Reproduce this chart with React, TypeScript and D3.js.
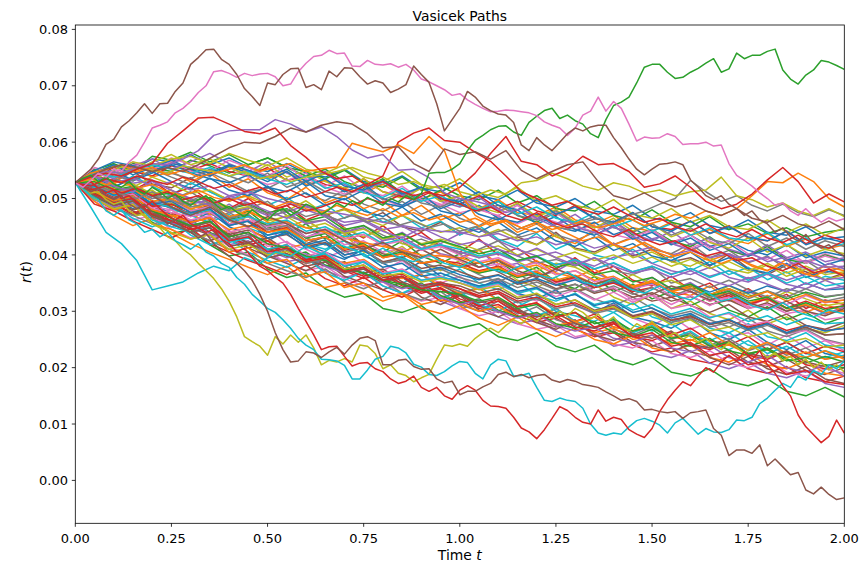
import React from "react";
import * as d3 from "d3";

// ---------- chart constants ----------
const W = 863;
const H = 571;
const tab10 = ["#1f77b4", "#ff7f0e", "#2ca02c", "#d62728", "#9467bd", "#8c564b", "#e377c2", "#7f7f7f", "#bcbd22", "#17becf"];

const titleText = "Vasicek Paths";
const xTicks = [0, 0.25, 0.5, 0.75, 1.0, 1.25, 1.5, 1.75, 2.0];
const yTicks = [0, 0.01, 0.02, 0.03, 0.04, 0.05, 0.06, 0.07, 0.08];
const timeSpan = [0, 2];

// values are in units of 1e-4 (i.e. 528 = 0.0528); each series spans t = 0..2 evenly

// distinctive paths (t step 0.02)
const brownTop = [528,540,552,570,596,605,627,638,652,668, 651,668,669,690,705,738,750,764,765,747, 738,720,695,681,665,705,702,720,730,731, 697,702,693,726,716,732,731,716,703,709, 705,688,694,702,735,720,706,668,620,640, 660,690,680,664,656,650,648,635,595,585, 608,595,585,600,615,625,620,627,630,630, 608,590,570,552,542,552,561,562,565,560, 533,520,505,498,505,490,482,470,478,462, 455,440,448,432,425,436,420,412,418,405, 398];
const pinkTop = [528,520,532,545,538,552,548,565,577,600, 625,630,636,652,660,672,688,700,725,727, 722,715,722,718,721,722,716,700,703,725, 740,752,754,763,757,758,735,734,745,738, 737,739,733,738,728,712,707,700,693,683, 686,675,667,660,654,655,657,656,654,652, 647,636,630,625,612,625,648,655,680,655, 672,660,632,602,609,607,608,615,610,596, 597,597,600,593,595,562,541,532,522,510, 500,488,492,478,470,482,468,458,466,460, 464];
const greenRise = [528,536,541,530,538,526,520,530,515,508, 520,512,500,508,495,488,498,505,492,480, 486,476,468,480,470,462,475,482,470,478, 490,484,472,480,492,485,496,490,502,495, 488,500,494,505,498,509,545,546,546,552, 562,585,603,612,622,628,629,618,612,635, 646,656,660,642,648,638,632,615,608,640, 665,671,680,705,733,738,738,724,713,715, 724,731,740,748,724,730,758,748,754,754, 761,765,728,712,703,719,728,745,742,736, 729];
const brownLow = [528,520,512,518,505,498,505,490,482,490, 475,468,455,462,448,440,430,438,420,408, 398,385,372,355,330,300,262,232,210,212, 228,226,218,228,236,224,240,252,255,248, 205,205,213,215,202,197,198,180,173,176, 152,158,158,166,172,188,192,184,188,182, 186,188,178,174,179,176,170,168,165,157, 150,142,145,140,125,126,122,120,122,110, 120,122,125,92,80,44,54,54,48,63, 26,38,24,10,14,-17,-24,-12,-25,-34, -31];
const redLow = [528,522,530,518,510,515,500,505,492,485, 495,482,470,462,470,455,448,440,445,428, 420,405,412,395,380,372,360,350,330,305, 282,258,232,237,238,220,203,208,209,198, 193,180,172,176,185,165,158,165,150,144, 160,168,160,142,132,131,128,112,93,86, 74,90,110,131,124,112,103,100,125,105, 112,108,90,82,76,92,122,143,160,175, 168,185,200,192,210,222,212,228,215,230, 205,190,168,150,116,95,81,67,78,107, 84];
const cyanLow = [528,518,505,498,478,470,480,462,455,440, 445,432,440,425,418,410,420,405,398,385, 378,360,348,330,318,305,298,285,270,252, 240,232,215,214,212,204,180,180,196,215, 220,238,235,226,206,201,188,186,193,203, 211,209,190,180,205,215,212,185,186,190, 165,142,140,146,142,140,128,100,84,80, 84,82,95,106,110,105,98,84,102,110, 96,82,92,86,85,90,107,106,112,136, 146,160,172,165,185,178,195,188,205,198, 212];
const oliveLow = [528,520,510,512,498,490,495,478,470,472, 455,448,432,425,410,400,385,372,358,340, 318,290,255,246,238,222,255,242,258,245, 258,235,205,213,210,216,210,240,238,225, 198,205,190,186,175,182,188,215,240,238, 242,238,252,262,270,262,275,285,278,290, 282,295,288,300,292,305,298,286,295,280, 290,272,265,278,270,282,268,255,262,250, 258,245,252,240,232,245,236,225,238,230, 218,226,212,220,205,215,200,210,196,205, 192];

// secondary paths (t step 0.04)
const redUpper = [528,538,545,540,552,562,598,620,643,644, 632,619,615,625,594,573,548,535,540,522, 530,515,505,512,498,490,478,485,470,462, 475,458,448,455,440,432,445,428,418,425, 410,398,405,390,395,380,372,385,368,375, 362];
const purpleUpper = [528,540,548,545,555,562,560,570,585,612, 620,622,622,640,632,618,627,610,586,572, 578,550,552,537,510,500,495,488,475,482, 465,452,460,445,438,450,435,425,432,418, 408,420,405,395,402,388,395,380,372,385, 375];
const orangeUpper = [528,545,552,560,548,555,542,550,538,545, 552,560,548,556,562,548,553,556,598,590, 583,595,580,610,585,510,470,455,462,448, 440,452,438,425,432,418,410,422,408,398, 405,392,385,395,380,372,385,370,362,375, 365];
const redMid = [528,522,535,528,540,532,525,538,530,518, 525,512,520,508,515,502,510,520,512,525, 540,600,616,625,603,600,582,566,540,512, 500,488,495,480,472,485,470,458,465,450, 442,455,440,432,445,430,422,435,420,412, 425];
const redLate = [528,515,522,510,518,505,512,498,505,492, 500,488,495,482,490,478,485,495,488,500, 492,505,498,510,505,520,545,580,610,566, 560,540,552,575,560,562,548,520,526,540, 520,495,482,490,508,533,555,530,492,508, 494];
const orangeLate = [528,535,525,530,518,525,512,505,515,502, 495,505,492,485,495,482,475,488,478,470, 482,468,475,462,470,458,465,452,460,448, 458,445,452,460,448,455,465,452,460,472, 465,478,470,482,505,530,528,545,530,500, 485];
const oliveUpper = [528,540,548,545,556,550,545,558,552,548, 540,548,535,542,530,538,542,548,555,545, 538,525,530,518,525,512,505,515,508,528, 532,545,535,522,515,528,522,510,515,505, 512,515,538,505,498,485,492,478,470,482, 468];
const grayLate = [528,515,522,508,500,512,498,490,502,488, 480,492,478,470,482,468,475,462,470,458, 465,452,460,448,455,442,450,438,445,432, 440,452,445,458,465,455,470,478,490,500, 532,512,495,505,488,478,490,475,468,480, 470];
const brownMid = [528,540,552,560,555,548,555,548,560,575, 590,600,598,610,625,618,630,636,632,615, 590,592,562,548,588,578,583,570,585,550, 535,548,560,565,530,505,498,510,495,485, 492,478,470,482,465,458,470,455,448,460, 445];
const cyanDip = [528,485,440,420,390,338,345,352,368,380, 372,395,385,405,398,415,402,420,410,398, 412,395,388,400,385,378,392,375,368,382, 365,358,370,352,345,358,340,332,345,328, 320,335,318,325,310,302,315,298,290,302, 295];

// paths staying in the upper part of the bundle (t step 0.05)
const upperPaths = [
  [528,545,560,552,570,565,578,560,572,555,548,562,545,538,552,530,525,540,518,512,528,505,498,515,492,485,500,478,472,488,465,460,475,452,445,462,440,435,450,428,432],
  [528,540,532,555,548,565,552,540,558,545,535,548,525,532,518,510,525,505,498,512,490,482,498,475,470,485,462,455,470,448,442,458,435,445,428,420,438,415,428,410,418],
  [528,552,545,562,555,548,568,558,545,560,572,555,548,535,550,528,520,538,515,522,505,498,515,492,505,482,478,495,470,462,480,458,450,468,445,455,438,448,432,440,445],
  [528,538,555,548,540,558,550,562,548,540,555,532,540,525,518,535,512,505,520,498,490,505,482,495,478,470,488,465,458,475,450,445,460,438,452,430,425,442,420,435,425],
  [528,548,540,532,550,545,535,552,540,528,545,520,532,512,505,522,498,510,492,485,500,478,488,470,462,478,455,468,448,440,455,435,448,428,420,438,415,430,410,425,415],
  [528,535,550,565,558,570,575,562,580,568,558,572,552,545,560,538,530,548,525,518,535,510,502,520,495,505,488,480,498,472,465,482,458,470,450,445,462,440,455,435,448],
  [528,545,538,550,560,552,545,555,540,548,535,525,540,518,528,510,502,518,495,505,488,480,495,472,485,465,458,475,450,462,442,455,435,448,430,425,440,418,430,412,420],
  [528,550,565,558,548,562,555,545,560,550,538,552,530,545,522,515,532,508,520,500,495,512,488,480,498,472,485,465,458,475,450,442,460,438,450,432,425,442,418,430,422],
];

// paths falling towards the lower part of the bundle (t step 0.05)
const lowerPaths = [
  [528,500,480,488,458,438,445,418,398,405,375,360,368,340,325,332,305,298,310,282,270,278,255,248,262,238,228,240,215,205,218,192,185,198,175,168,180,158,150,165,148],
  [528,505,490,472,480,455,440,448,428,412,420,398,385,392,372,358,365,345,332,340,318,305,312,292,280,288,268,255,262,240,228,235,215,208,220,198,190,202,182,175,185],
  [528,498,482,490,465,450,458,432,418,425,400,388,395,372,360,368,345,332,340,318,305,312,290,278,285,265,252,260,238,245,225,218,230,208,198,210,190,182,195,172,165],
  [528,510,495,478,465,472,448,435,442,420,408,415,392,380,388,365,352,360,338,325,332,310,298,305,285,272,280,258,265,245,238,250,228,220,232,210,202,215,195,188,200],
  [528,495,478,462,470,445,430,438,415,400,408,385,372,380,358,345,352,330,318,325,305,292,300,278,268,275,255,262,242,235,248,225,218,230,208,200,212,192,185,198,190],
  [528,515,498,505,480,468,475,452,440,448,425,412,420,398,385,392,370,358,365,345,332,340,320,308,315,295,282,290,272,265,278,255,248,262,240,232,245,225,218,230,215],
  [528,502,488,495,470,455,462,440,425,432,410,398,405,382,370,378,355,342,350,328,315,322,302,290,298,278,270,282,262,255,268,245,238,252,230,222,235,215,208,220,210],
  [528,508,490,475,482,460,445,452,430,418,425,402,390,398,375,362,370,348,335,342,322,310,318,298,285,292,272,265,278,255,248,262,240,232,245,222,215,228,205,198,205],
  [528,500,485,492,468,455,462,438,425,432,408,395,402,380,368,375,352,340,348,325,312,320,300,288,295,275,265,272,252,245,258,235,228,240,218,210,222,200,192,205,185],
  [528,512,495,480,488,465,450,458,435,422,430,408,395,402,380,368,375,352,340,348,328,315,322,302,290,298,278,270,282,260,252,265,242,235,248,225,218,230,210,202,212],
];

// irregular middle paths (t step 0.05)
const midPaths = [
  [528,520,535,525,505,498,512,490,475,482,495,470,458,462,440,452,435,420,428,415,402,410,425,398,385,392,380,395,372,365,378,350,358,342,355,338,325,340,332,318,325],
  [528,510,525,502,515,492,480,498,485,468,455,470,462,440,448,432,445,420,410,425,412,395,405,388,372,385,378,362,350,365,348,355,340,328,345,330,318,335,322,310,315],
  [528,540,522,512,530,515,500,488,505,492,478,465,480,468,452,460,442,430,448,432,418,425,410,398,412,395,382,395,380,368,375,360,372,355,345,360,348,335,350,338,345],
  [528,515,500,518,505,485,470,485,462,450,468,455,438,445,425,410,422,405,395,410,392,378,390,372,360,375,362,348,358,340,330,345,335,320,332,315,305,318,300,292,305],
];

// bulk of the simulated paths (t step 0.05)
const massPaths = [
  [528,510,522,498,487,505,480,471,490,468,452,460,431,445,438,412,425,440,418,402,395,410,378,385,362,371,390,368,355,342,360,338,351,330,318,335,322,300,312,295,308],
  [528,541,530,548,526,519,537,512,498,506,520,495,488,470,482,461,475,450,442,458,436,447,425,432,418,440,412,405,421,398,410,388,395,380,402,376,365,382,370,356,368],
  [528,503,515,490,472,480,455,468,443,430,448,421,410,395,408,386,372,390,365,350,362,340,355,330,318,335,310,296,312,288,275,292,268,280,255,262,240,258,235,248,230],
  [528,520,544,531,552,538,525,546,530,512,518,535,508,496,515,490,478,495,472,488,465,452,470,445,458,436,425,440,418,432,410,402,420,395,408,386,398,375,390,368,380],
  [528,512,495,508,486,470,492,475,455,468,440,452,430,418,436,405,398,415,388,372,390,368,380,355,342,360,335,348,325,312,330,305,318,296,285,302,278,290,270,262,275],
  [528,535,518,540,522,505,528,512,495,515,488,502,478,490,465,482,458,470,448,460,435,452,428,415,438,410,425,400,392,410,385,398,372,388,365,378,356,370,348,362,355],
  [528,518,499,482,495,470,458,476,450,436,425,442,418,405,392,410,385,370,388,362,350,341,358,332,322,338,310,298,315,290,282,270,288,262,250,268,245,232,248,225,218],
  [528,540,525,555,538,548,530,545,520,535,510,498,520,492,505,482,495,470,488,462,475,450,465,440,455,432,420,445,418,430,408,395,415,390,402,385,372,392,365,380,372],
  [528,507,520,496,510,485,472,490,462,478,450,438,455,428,442,415,405,425,398,385,402,378,390,365,378,352,340,362,335,348,322,335,310,325,302,290,308,285,298,278,290],
  [528,522,505,515,532,508,520,495,482,500,472,488,462,475,448,430,452,425,440,415,405,428,400,412,388,375,395,368,380,355,345,362,338,350,325,340,318,330,305,320,312],
  [528,536,549,527,533,514,498,485,502,511,490,476,488,470,458,462,445,451,433,420,438,446,425,410,398,405,391,380,396,402,385,372,365,378,360,352,366,348,340,355,342],
  [528,510,501,517,496,482,475,489,468,450,456,441,420,432,445,418,402,395,410,392,378,386,370,352,365,348,335,342,355,332,318,325,310,298,312,290,282,295,275,268,280],
  [528,545,538,560,551,566,549,540,556,538,525,532,545,520,508,515,498,486,502,490,475,482,468,455,470,458,445,452,436,428,442,420,412,425,408,398,412,395,388,402,390],
  [528,515,526,505,492,498,480,462,475,458,444,452,430,418,425,408,396,410,388,375,382,365,352,368,345,332,340,322,310,325,305,292,300,285,272,288,265,255,268,250,242],
  [528,530,512,520,538,525,509,515,497,505,490,478,496,472,480,465,452,470,455,440,448,432,445,428,418,435,410,402,418,395,405,388,380,396,375,368,382,362,375,355,365],
  [528,504,488,495,470,458,440,452,430,418,402,412,395,380,372,388,362,350,365,340,328,345,320,308,325,300,292,282,298,275,265,278,255,248,262,240,232,245,225,218,228],
  [528,542,550,532,545,560,546,535,528,542,520,512,530,505,498,515,492,485,500,478,470,488,465,458,472,450,442,458,436,448,428,420,435,415,425,408,400,418,395,405,398],
  [528,516,502,520,508,488,495,472,465,480,458,448,462,440,428,436,418,405,420,400,392,408,385,375,390,368,360,375,352,342,355,335,328,345,320,312,328,305,298,312,300],
  [528,525,508,490,505,482,470,458,472,448,435,446,420,410,425,398,385,398,372,360,375,350,338,352,328,318,332,308,298,315,290,280,295,270,262,278,255,248,262,240,235],
  [528,538,521,535,548,530,518,536,515,505,522,498,510,488,500,478,468,485,460,472,452,440,458,435,448,425,415,432,408,420,398,390,405,382,395,375,368,385,360,372,365],
  [528,495,470,452,465,438,420,405,392,378,365,380,355,342,350,332,318,330,305,296,310,288,275,290,268,255,270,250,242,258,235,228,240,218,210,225,205,198,212,190,185],
  [528,550,562,548,575,568,582,565,578,560,572,555,540,552,530,518,535,510,498,515,490,478,495,470,458,475,452,440,458,435,445,425,415,432,408,398,415,392,385,400,390],
  [528,490,478,460,445,430,448,420,405,390,378,365,382,358,345,360,338,325,342,318,330,308,322,300,290,305,282,295,272,265,280,258,270,248,240,255,232,245,225,238,228],
  [528,548,535,558,570,552,565,580,562,548,565,545,532,548,525,512,530,505,520,495,485,502,478,490,468,455,472,448,460,438,425,442,418,430,410,400,418,395,405,388,395],
  [528,500,485,470,478,455,440,425,438,412,398,385,372,388,362,350,338,352,325,312,328,302,290,305,280,268,285,258,248,262,240,228,242,218,205,220,198,188,202,180,172],
  [528,555,545,565,552,572,560,548,568,555,540,558,535,522,540,515,505,522,498,488,505,480,470,488,462,475,452,440,458,432,445,422,435,412,425,402,392,408,385,398,388],
  [528,508,482,470,455,462,440,425,410,398,385,372,360,375,352,340,355,332,320,335,312,300,318,295,308,285,275,290,268,258,272,250,262,240,252,230,242,222,235,215,222],
  [528,540,558,548,565,578,560,570,555,542,560,538,550,530,518,535,512,500,518,495,505,485,475,492,468,480,458,448,465,442,455,432,445,422,412,430,405,418,398,410,402],
  [528,498,488,465,450,462,435,418,428,405,390,378,395,368,355,370,345,332,348,322,335,312,300,318,292,305,282,270,288,262,275,252,265,242,232,248,225,238,218,230,220],
  [528,545,560,542,555,568,552,540,558,545,530,548,522,535,512,525,500,488,508,482,495,472,462,480,455,468,445,435,452,428,440,418,430,408,420,398,410,390,402,382,392],
  [528,502,480,488,455,445,428,436,405,412,385,392,362,370,342,350,325,332,312,320,315,300,308,290,296,275,282,262,270,250,258,242,250,235,240,225,232,218,228,215,220],
  [528,518,508,515,488,490,478,486,462,470,450,458,430,438,412,420,398,405,385,392,380,368,375,360,368,352,362,348,356,340,350,336,345,330,340,326,336,322,334,325,330],
  [528,512,498,506,480,475,458,466,432,440,410,418,392,400,375,382,360,366,346,352,340,328,335,318,325,308,315,300,306,290,298,284,290,278,284,272,280,266,275,266,270],
  [528,525,510,518,500,505,490,498,476,484,470,476,455,462,440,448,425,432,412,418,405,395,402,388,396,382,390,375,385,370,380,366,376,362,372,358,368,355,366,356,360],
  [528,508,492,500,472,460,450,458,436,444,430,436,415,422,400,408,388,395,376,382,370,358,365,348,356,340,348,332,340,325,333,318,326,312,320,305,315,300,310,298,300],
  [528,520,505,512,490,495,478,486,460,468,445,452,432,440,418,425,405,412,395,400,390,378,384,365,372,350,358,335,342,320,328,305,312,290,296,275,282,260,266,248,240],
  [528,515,500,508,485,480,462,470,440,448,415,424,398,406,382,390,368,375,355,362,350,340,348,332,342,326,338,320,334,316,330,312,328,310,326,308,324,312,328,315,320],
  [528,512,495,502,478,470,452,460,428,436,400,410,385,392,370,378,356,362,342,348,335,325,332,315,322,305,312,296,304,288,296,280,288,272,280,266,275,260,270,258,260],
  [528,530,518,526,508,515,495,502,478,486,460,468,448,456,438,446,428,436,420,428,420,408,416,400,410,395,405,390,400,385,396,380,392,376,388,372,385,368,380,365,370],
  [528,505,490,498,462,450,440,448,422,430,410,418,395,402,380,388,366,372,355,360,355,342,350,332,340,322,330,312,320,302,312,295,305,288,298,282,292,276,288,278,280],
  [528,518,500,508,490,485,468,476,452,460,435,442,418,426,400,408,385,392,370,378,365,356,364,350,358,346,356,342,352,340,350,336,348,334,346,332,345,335,350,338,340],
  [528,522,508,516,495,500,482,490,468,475,465,458,448,440,430,422,415,408,400,398,395,385,392,375,382,365,372,355,362,345,352,335,342,325,332,315,322,305,312,298,300],
  [528,510,496,504,478,465,452,460,432,440,420,412,398,390,375,368,355,348,338,335,330,318,325,305,312,292,298,278,285,265,272,252,258,238,245,225,232,212,218,205,200],
  [528,518,502,510,486,490,472,480,455,462,440,448,425,432,408,416,395,402,385,390,385,372,380,362,370,352,360,342,350,335,342,325,335,318,328,312,322,306,318,305,310],
  [528,540,528,536,522,530,515,522,505,512,500,492,485,478,472,465,458,452,446,442,440,432,438,425,432,418,426,412,420,405,414,400,408,395,402,388,396,382,390,378,380],
  [528,505,488,496,468,455,440,448,415,422,395,402,380,388,368,375,356,362,345,350,345,332,340,322,330,312,320,302,310,292,300,284,292,276,284,270,278,262,272,258,260],
  [528,515,500,508,482,475,468,476,455,462,450,456,438,446,428,436,418,425,408,415,400,388,395,378,386,365,372,352,360,340,348,328,335,318,325,305,312,296,302,285,290],
  [528,525,512,520,500,505,485,492,465,472,445,452,425,432,405,412,385,392,368,375,360,350,358,342,352,338,348,334,345,330,342,326,340,324,338,322,336,325,340,326,330],
  [528,500,482,490,455,440,428,436,410,418,400,406,388,395,375,382,362,368,352,358,350,338,345,325,332,312,320,300,308,288,296,276,285,265,272,255,262,245,252,236,240],
  [528,520,505,512,492,485,472,480,460,468,455,462,442,450,432,440,420,428,410,418,410,398,405,390,398,382,392,375,386,370,380,365,376,360,372,355,368,350,362,345,350],
  [528,522,506,514,490,495,475,482,452,460,430,438,412,420,395,402,378,385,362,368,355,345,352,335,342,322,330,310,318,298,306,288,296,278,286,268,278,262,275,265,270],
  [528,512,496,504,480,470,458,466,445,452,440,446,425,432,410,418,395,402,385,392,380,370,378,362,370,355,364,348,358,342,352,335,346,330,340,325,335,318,330,316,320],
  [528,530,515,522,505,510,495,502,482,490,475,482,460,468,445,452,430,438,418,425,415,402,410,390,398,378,386,365,372,352,360,340,348,328,335,318,325,305,315,302,310],
  [528,508,492,500,472,460,446,454,425,432,405,412,388,395,370,378,355,362,340,348,340,325,332,308,315,290,298,272,280,255,262,238,245,222,228,205,212,188,195,175,170],
];

type Series = { vals: number[]; color: string };

const bundle: number[][] = [
  ...upperPaths.slice(0, 4),
  ...massPaths.slice(0, 18),
  ...lowerPaths.slice(0, 5),
  ...midPaths.slice(0, 2),
  ...massPaths.slice(18, 36),
  ...upperPaths.slice(4),
  ...lowerPaths.slice(5),
  ...massPaths.slice(36),
  ...midPaths.slice(2),
];

const series: Series[] = [
  ...bundle.map((vals, i) => ({ vals, color: tab10[i % 10] })),
  { vals: cyanDip, color: tab10[9] },
  { vals: grayLate, color: tab10[7] },
  { vals: oliveUpper, color: tab10[8] },
  { vals: orangeLate, color: tab10[1] },
  { vals: redLate, color: tab10[3] },
  { vals: redMid, color: tab10[3] },
  { vals: orangeUpper, color: tab10[1] },
  { vals: purpleUpper, color: tab10[4] },
  { vals: brownMid, color: tab10[5] },
  { vals: redUpper, color: tab10[3] },
  { vals: oliveLow, color: tab10[8] },
  { vals: cyanLow, color: tab10[9] },
  { vals: redLow, color: tab10[3] },
  { vals: brownLow, color: tab10[5] },
  { vals: greenRise, color: tab10[2] },
  { vals: pinkTop, color: tab10[6] },
  { vals: brownTop, color: tab10[5] },
];

export default function App() {
  const left = 75.3, right = 844.3, top = 25, bottom = 523.3;
  const x = d3.scaleLinear().domain(timeSpan).range([left, right]);
  const y = d3.scaleLinear().domain([0, 0.08]).range([480.4, 29.4]);
  const line = d3
    .line<number>()
    .x((_, i, arr) => x(timeSpan[0] + ((timeSpan[1] - timeSpan[0]) * i) / (arr.length - 1)))
    .y((v) => y(v * 1e-4));
  const fmt = d3.format(".2f");
  const font = "DejaVu Sans, sans-serif";

  return (
    <svg
      width={W}
      height={H}
      style={{ position: "absolute", left: 0, top: 0, background: "#fff" }}
      fontFamily={font}
    >
      <rect x={0} y={0} width={W} height={H} fill="#fff" />
      <defs>
        <clipPath id="plotClip">
          <rect x={left} y={top} width={right - left} height={bottom - top} />
        </clipPath>
      </defs>
      <g clipPath="url(#plotClip)">
        {series.map((s, i) => (
          <path
            key={i}
            d={line(s.vals) || ""}
            fill="none"
            stroke={s.color}
            strokeWidth={1.5}
            strokeLinejoin="round"
          />
        ))}
      </g>
      <rect x={left} y={top} width={right - left} height={bottom - top} fill="none" stroke="#000" strokeWidth={0.8} />
      {xTicks.map((t) => (
        <g key={"x" + t}>
          <line x1={x(t)} x2={x(t)} y1={bottom} y2={bottom + 3.5} stroke="#000" strokeWidth={0.8} />
          <text x={x(t)} y={542.7} fontSize={13} textAnchor="middle" fill="#000">
            {fmt(t)}
          </text>
        </g>
      ))}
      {yTicks.map((t) => (
        <g key={"y" + t}>
          <line x1={left - 3.5} x2={left} y1={y(t)} y2={y(t)} stroke="#000" strokeWidth={0.8} />
          <text x={68} y={y(t) + 4.7} fontSize={13} textAnchor="end" fill="#000">
            {fmt(t)}
          </text>
        </g>
      ))}
      <text x={(left + right) / 2} y={20.5} fontSize={13.9} textAnchor="middle" fill="#000">
        {titleText}
      </text>
      <text x={(left + right) / 2} y={560} fontSize={13.9} textAnchor="middle" fill="#000">
        Time <tspan fontStyle="italic">t</tspan>
      </text>
      <text transform="translate(31,272) rotate(-90)" fontSize={13.9} textAnchor="middle" fill="#000">
        <tspan fontStyle="italic">r</tspan>(<tspan fontStyle="italic">t</tspan>)
      </text>
    </svg>
  );
}
